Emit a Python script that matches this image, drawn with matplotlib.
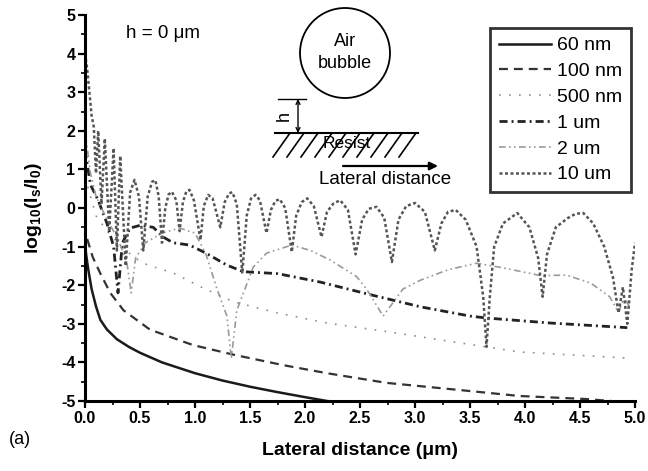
import numpy as np
import matplotlib
matplotlib.use("Agg")
import matplotlib.pyplot as plt
from matplotlib.patches import Ellipse
from matplotlib.lines import Line2D

plt.rcParams['font.family'] = ['Liberation Sans', 'DejaVu Sans']
plt.rcParams['mathtext.fontset'] = 'custom'
plt.rcParams['mathtext.rm'] = 'Liberation Sans:bold'
plt.rcParams['mathtext.default'] = 'rm'

# curves (x in um, y = log10(Is/I0))
x60 = [0.0, 0.01, 0.03, 0.06, 0.10, 0.14, 0.20, 0.29, 0.40, 0.50, 0.70, 1.00, 1.25, 1.50, 1.75, 2.00, 2.20, 2.50]
y60 = [-0.9, -1.2, -1.6, -2.1, -2.55, -2.9, -3.15, -3.4, -3.6, -3.75, -4.0, -4.28, -4.47, -4.63, -4.77, -4.9, -5.0, -5.1]

x100 = [0.02, 0.07, 0.14, 0.23, 0.35, 0.59, 0.98, 1.35, 1.80, 2.20, 2.74, 3.35, 3.95, 4.56, 5.0]
y100 = [-0.8, -1.27, -1.7, -2.2, -2.65, -3.15, -3.55, -3.8, -4.07, -4.28, -4.53, -4.7, -4.87, -4.95, -5.05]

x500 = [0.0, 0.10, 0.20, 0.30, 0.44, 0.57, 0.80, 1.05, 1.35, 1.75, 2.20, 2.74, 3.35, 3.95, 4.95]
y500 = [0.8, -0.2, -0.6, -0.9, -1.27, -1.48, -1.68, -2.04, -2.43, -2.72, -2.98, -3.2, -3.47, -3.73, -3.89]

x1u = [0.0, 0.05, 0.12, 0.20, 0.26, 0.30, 0.34, 0.41, 0.50, 0.62, 0.71, 0.80, 0.95, 1.10, 1.29, 1.44,
       1.75, 2.14, 2.60, 3.05, 3.50, 3.65, 4.23, 4.93]
y1u = [1.5, 0.6, 0.2, -0.4, -1.0, -2.2, -0.9, -0.52, -0.45, -0.5, -0.75, -0.9, -0.96, -1.17, -1.48, -1.65,
       -1.7, -1.92, -2.25, -2.56, -2.8, -2.85, -2.98, -3.1]

x2u = [0.0, 0.05, 0.10, 0.20, 0.30, 0.38, 0.42, 0.46, 0.55, 0.70, 0.86, 1.00, 1.10, 1.20, 1.29, 1.33,
       1.38, 1.53, 1.65, 1.88, 2.05, 2.23, 2.47, 2.56, 2.71, 2.89, 3.05, 3.30, 3.56, 3.80, 4.14, 4.38,
       4.60, 4.77, 4.85, 4.90, 4.95]
y2u = [2.0, 0.9, 0.3, -0.3, -0.8, -1.4, -2.2, -1.3, -0.9, -0.65, -0.52, -0.65, -1.2, -2.1, -2.8, -3.9,
       -2.65, -1.53, -1.17, -0.96, -1.1, -1.35, -1.78, -2.1, -2.8, -2.1, -1.87, -1.6, -1.43, -1.55, -1.75, -1.74,
       -1.95, -2.3, -2.7, -2.3, -2.56]

x10u = [0.00, 0.02, 0.04, 0.06, 0.08, 0.10, 0.12, 0.15, 0.18, 0.22, 0.26, 0.29, 0.32, 0.37, 0.41, 0.45,
        0.49, 0.53, 0.57, 0.61, 0.64, 0.67, 0.70, 0.73, 0.76, 0.79, 0.83, 0.86, 0.89, 0.92, 0.95, 0.99,
        1.05, 1.08, 1.12, 1.16, 1.23, 1.27, 1.31, 1.34, 1.38, 1.43, 1.47, 1.51, 1.55, 1.59, 1.65, 1.69,
        1.73, 1.77, 1.82, 1.88, 1.92, 1.97, 2.02, 2.08, 2.15, 2.20, 2.26, 2.32, 2.39, 2.46, 2.52, 2.58,
        2.65, 2.72, 2.79, 2.85, 2.92, 3.00, 3.09, 3.18, 3.24, 3.30, 3.37, 3.46, 3.56, 3.62, 3.65, 3.68,
        3.72, 3.80, 3.93, 4.04, 4.12, 4.16, 4.20, 4.28, 4.39, 4.46, 4.53, 4.62, 4.72, 4.80, 4.85, 4.89,
        4.93, 4.97, 5.00]
y10u = [4.0, 3.6, 3.0, 2.4, 2.1, 0.9, 2.0, 0.1, 1.8, -0.6, 1.55, -1.1, 1.35, -1.5, 0.4, 0.73,
        0.3, -1.1, 0.3, 0.68, 0.72, 0.3, -0.9, 0.0, 0.35, 0.42, 0.2, -0.6, 0.15, 0.42, 0.47, 0.2,
        -0.83, 0.05, 0.34, 0.25, -0.5, 0.15, 0.38, 0.41, 0.1, -1.7, -0.2, 0.25, 0.34, 0.2, -0.65, -0.05,
        0.18, 0.23, 0.0, -1.14, -0.2, 0.15, 0.25, 0.05, -0.75, -0.1, 0.12, 0.2, -0.05, -1.2, -0.3, -0.02,
        0.03, -0.25, -1.4, -0.3, 0.05, 0.13, -0.1, -1.1, -0.4, -0.1, -0.05, -0.3, -1.0, -2.3, -3.6, -2.3,
        -1.0, -0.4, -0.13, -0.5, -1.3, -2.3, -1.2, -0.5, -0.26, -0.15, -0.13, -0.4, -1.0, -1.8, -2.72, -2.05,
        -3.0, -1.6, -0.9]

W, H = 648, 471
fig = plt.figure(figsize=(W / 100, H / 100), dpi=100)
ax = fig.add_axes([85 / W, 1 - 401 / H, 550 / W, 386 / H])

ax.plot(x60, y60, color='#1a1a1a', lw=1.8, label='60 nm')
ax.plot(x100, y100, color='#333333', lw=1.6, dashes=(4, 2.7), label='100 nm')
ax.plot(x500, y500, color='#8c8c8c', lw=1.2, dashes=(1, 5), label='500 nm')
ax.plot(x1u, y1u, color='#222222', lw=2.0, dashes=(2.9, 1.45, 0.7, 1.45), label='1 um')
ax.plot(x2u, y2u, color='#9a9a9a', lw=1.2, dashes=(4, 2, 1, 2, 1, 2), label='2 um')
ax.plot(x10u, y10u, color='#555555', lw=1.8, dashes=(1.2, 1.0), label='10 um')

ax.set_xlim(0, 5)
ax.set_ylim(-5, 5)
ax.set_xticks(np.arange(0, 5.01, 0.5))
ax.set_xticks(np.arange(0, 5.01, 0.25), minor=True)
ax.set_yticks(np.arange(-5, 6, 1))
ax.set_yticks(np.arange(-5, 5.01, 0.5), minor=True)
ax.set_xticklabels([f'{v:.1f}' for v in np.arange(0, 5.01, 0.5)], fontweight='bold')
ax.set_yticklabels([f'{v:d}' for v in range(-5, 6)], fontweight='bold')
for s in ['top', 'right']:
    ax.spines[s].set_visible(False)
for s in ['left', 'bottom']:
    ax.spines[s].set_linewidth(2.2)
ax.tick_params(which='major', direction='out', length=5, width=1.6, labelsize=11.5, pad=2)
ax.tick_params(which='minor', direction='out', length=3, width=1.2)

ax.set_xlabel('Lateral distance (\u03bcm)', fontsize=14, fontweight='bold', labelpad=12)
ax.set_ylabel('log$_{10}$(I$_s$/I$_0$)', fontsize=14, fontweight='bold', labelpad=12)

leg = ax.legend(loc='upper right', bbox_to_anchor=(0.993, 0.966), fontsize=14, frameon=True,
                fancybox=False, edgecolor='black', handlelength=2.7, handletextpad=0.3,
                labelspacing=0.42, borderpad=0.45, borderaxespad=0)
leg.get_frame().set_linewidth(2)


def P(px, py):
    return (px / W, 1 - py / H)


fig.text(*P(20, 440), '(a)', fontsize=13, ha='center', va='center')
fig.text(*P(163, 33), 'h = 0 \u03bcm', fontsize=13.5, ha='center', va='center')

# inset sketch
fig.add_artist(Ellipse(P(345, 53), 90 / W, 90 / H, fill=False, lw=1.3, color='black'))
fig.text(*P(345, 42), 'Air', fontsize=13, ha='center', va='center')
fig.text(*P(345, 64), 'bubble', fontsize=13, ha='center', va='center')
fig.add_artist(Line2D(*zip(P(278, 99), P(306, 99)), lw=1.0, color='black'))
fig.add_artist(Line2D(*zip(P(275, 133), P(418, 133)), lw=1.5, color='black'))
ax.annotate('', xy=P(298, 99), xytext=P(298, 133), xycoords='figure fraction',
            textcoords='figure fraction', arrowprops=dict(arrowstyle='<->', lw=1.0, color='black',
                                                          shrinkA=0, shrinkB=0, mutation_scale=7))
fig.text(*P(284, 116), 'h', fontsize=13, rotation=90, ha='center', va='center')
for k in range(10):
    top = 290 + k * 14
    fig.add_artist(Line2D(*zip(P(top, 133), P(top - 17, 157)), lw=1.2, color='black'))
fig.text(*P(347, 144), 'Resist', fontsize=12.5, ha='center', va='center')
ax.annotate('', xy=P(438, 166), xytext=P(343, 166), xycoords='figure fraction',
            textcoords='figure fraction', arrowprops=dict(arrowstyle='-|>', lw=1.6, color='black',
                                                          shrinkA=0, shrinkB=0, mutation_scale=12))
fig.text(*P(385, 179), 'Lateral distance', fontsize=13.5, ha='center', va='center')

fig.savefig('out.png', dpi=100)
